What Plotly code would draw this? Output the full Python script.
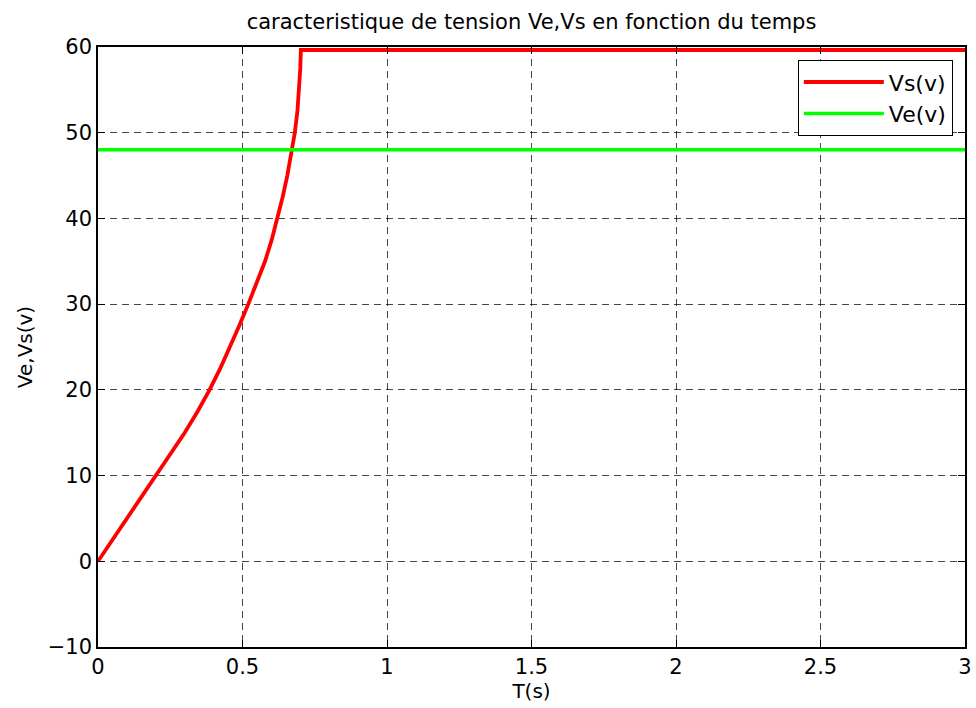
import plotly.graph_objects as go

# Data
t_vs = [0.0, 0.050, 0.100, 0.151, 0.202, 0.252, 0.300, 0.345, 0.386, 0.423, 0.457,
        0.489, 0.520, 0.550, 0.578, 0.601, 0.621, 0.639, 0.655, 0.669, 0.681,
        0.690, 0.696, 0.700, 0.702, 3.0]
vs = [0.0, 2.5, 5.0, 7.5, 10.0, 12.5, 15.0, 17.5, 20.0, 22.5, 25.0,
      27.5, 30.0, 32.5, 35.0, 37.5, 40.0, 42.5, 45.0, 47.5, 50.0,
      52.5, 55.0, 57.5, 59.65, 59.65]
t_ve = [0.0, 3.0]
ve = [48.0, 48.0]

x_ticks = [0, 0.5, 1, 1.5, 2, 2.5, 3]
x_labels = ["0", "0.5", "1", "1.5", "2", "2.5", "3"]
y_ticks = [-10, 0, 10, 20, 30, 40, 50, 60]

title_text = "caracteristique de tension Ve,Vs en fonction du temps"
font_family = "DejaVu Sans, Liberation Sans, Arial, sans-serif"

fig = go.Figure()
fig.add_trace(go.Scatter(x=t_vs, y=vs, mode="lines", name="Vs(v)",
                         line=dict(color="#ff0000", width=3.8)))
fig.add_trace(go.Scatter(x=t_ve, y=ve, mode="lines", name="Ve(v)",
                         line=dict(color="#00ff00", width=3.5)))

axis_common = dict(
    showline=True, linecolor="black", linewidth=1.5, mirror="allticks",
    ticks="inside", ticklen=7, tickcolor="black", tickwidth=1,
    showgrid=True, gridcolor="rgba(0,0,0,0.72)", gridwidth=1, griddash="7px,5px",
    zeroline=False, automargin=False,
    tickfont=dict(size=21, color="black", family=font_family),
)

fig.update_xaxes(range=[0, 3], tickvals=x_ticks, ticktext=x_labels,
                 title=dict(text="T(s)", font=dict(size=20, color="black", family=font_family), standoff=2),
                 **axis_common)
fig.update_yaxes(range=[-10, 60], tickvals=y_ticks,
                 title=dict(text="Ve,Vs(v)", font=dict(size=20, color="black", family=font_family), standoff=10),
                 **axis_common)

fig.update_layout(
    width=976, height=708,
    margin=dict(l=98, r=11, t=47, b=61),
    paper_bgcolor="white", plot_bgcolor="white",
    font=dict(family=font_family, color="black"),
    title=dict(text=title_text, x=0.5, xref="paper", xanchor="center",
               y=0.969, yanchor="middle", yref="container",
               font=dict(size=21, color="black", family=font_family)),
    legend=dict(x=0.986, y=0.978, xanchor="right", yanchor="top",
                bgcolor="white", bordercolor="black", borderwidth=1,
                font=dict(size=22, color="black", family=font_family),
                itemwidth=80, tracegroupgap=0),
    showlegend=True,
)

fig.write_html("out.html", config={"displayModeBar": False},
               post_script="document.body.style.margin='0';")
